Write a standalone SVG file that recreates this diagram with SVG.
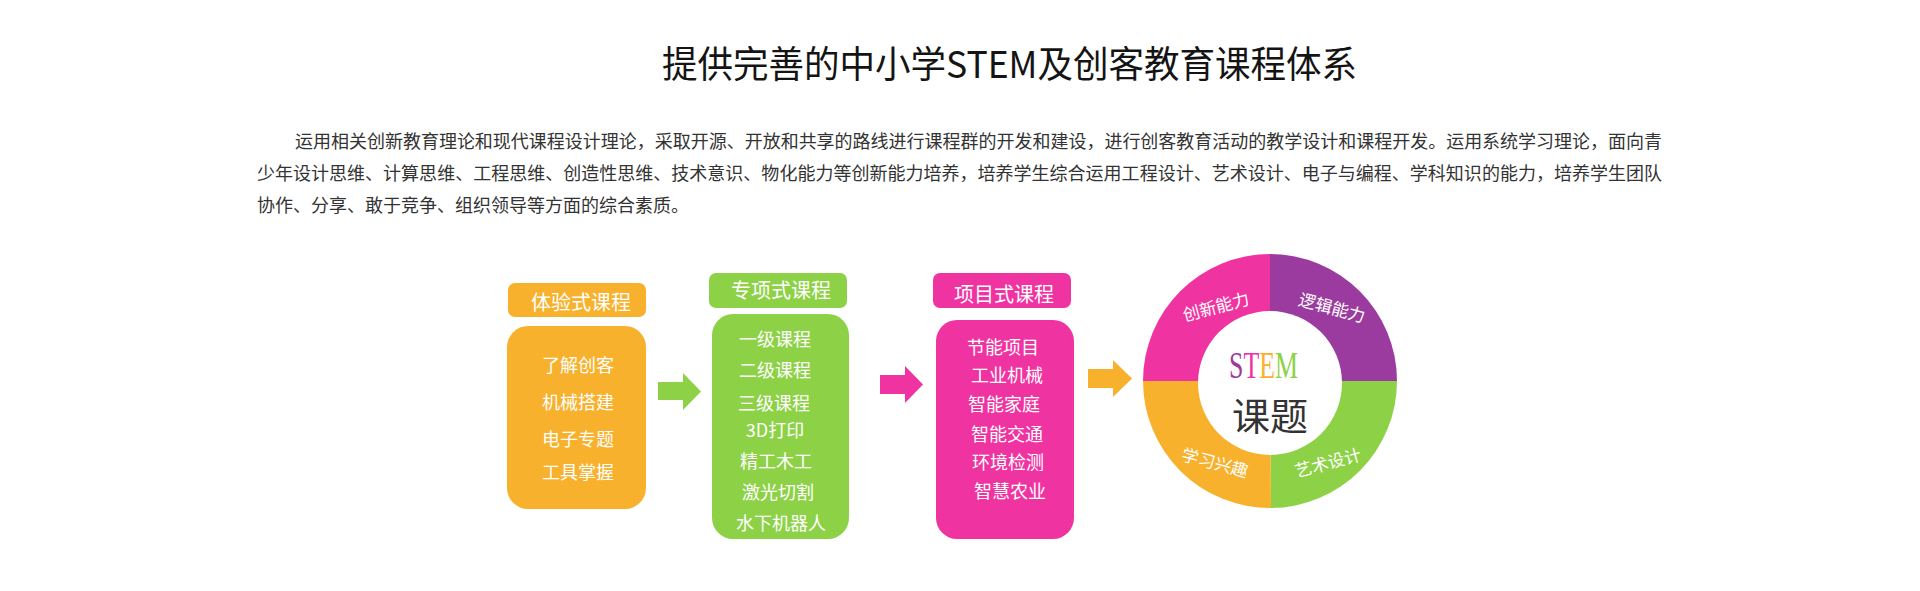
<svg xmlns="http://www.w3.org/2000/svg" width="1920" height="591" viewBox="0 0 1920 591">
<style>
.t{font-family:"Noto Sans CJK SC","Microsoft YaHei",sans-serif;}
.title{font-size:37px;fill:#141414;}
.para{font-size:18px;fill:#333333;}
.hd{font-size:20px;fill:#ffffff;text-anchor:middle;}
.it{font-size:18px;fill:#ffffff;text-anchor:middle;}
.rl{font-size:17px;fill:#ffffff;text-anchor:middle;}
.orange{fill:#F8B12C;}
.green{fill:#8DD246;}
.pink{fill:#EF34A2;}
.purple{fill:#9C3B9F;}
</style>
<rect width="1920" height="591" fill="#ffffff"/>
<g id="title">
<text class="t title" x="662" y="78" textLength="695" lengthAdjust="spacingAndGlyphs">提供完善的中小学STEM及创客教育课程体系</text>
</g>
<g id="paragraph" class="t para">
<text x="295" y="148" textLength="1367" lengthAdjust="spacing">运用相关创新教育理论和现代课程设计理论，采取开源、开放和共享的路线进行课程群的开发和建设，进行创客教育活动的教学设计和课程开发。运用系统学习理论，面向青</text>
<text x="257" y="180" textLength="1405" lengthAdjust="spacing">少年设计思维、计算思维、工程思维、创造性思维、技术意识、物化能力等创新能力培养，培养学生综合运用工程设计、艺术设计、电子与编程、学科知识的能力，培养学生团队</text>
<text x="257" y="212">协作、分享、敢于竞争、组织领导等方面的综合素质。</text>
</g>
<g id="node-tiyan">
<rect class="orange" x="508" y="283" width="138" height="34" rx="7"/>
<text class="t hd" x="581" y="310">体验式课程</text>
<rect class="orange" x="507" y="326" width="139" height="183" rx="21"/>
<g class="t it">
<text x="578" y="372">了解创客</text>
<text x="578" y="409">机械搭建</text>
<text x="578" y="446">电子专题</text>
<text x="578" y="479">工具掌握</text>
</g>
</g>
<g id="node-zhuanxiang">
<rect class="green" x="709" y="273" width="138" height="35" rx="7"/>
<text class="t hd" x="781" y="298">专项式课程</text>
<rect class="green" x="712" y="314" width="137" height="225" rx="21"/>
<g class="t it">
<text x="775" y="346">一级课程</text>
<text x="775" y="377">二级课程</text>
<text x="774" y="410">三级课程</text>
<text x="775" y="437">3D打印</text>
<text x="776" y="468">精工木工</text>
<text x="778" y="499">激光切割</text>
<text x="781" y="530">水下机器人</text>
</g>
</g>
<g id="node-xiangmu">
<rect class="pink" x="933" y="273" width="138" height="35" rx="7"/>
<text class="t hd" x="1004" y="302">项目式课程</text>
<rect class="pink" x="936" y="320" width="138" height="219" rx="21"/>
<g class="t it">
<text x="1003" y="354">节能项目</text>
<text x="1007" y="382">工业机械</text>
<text x="1004" y="411">智能家庭</text>
<text x="1007" y="441">智能交通</text>
<text x="1008" y="469">环境检测</text>
<text x="1010" y="498">智慧农业</text>
</g>
</g>
<g id="node-stem">
<path class="pink" d="M1270,381 L1143,381 A127,127 0 0 1 1270,254 Z"/>
<path class="purple" d="M1270,381 L1270,254 A127,127 0 0 1 1397,381 Z"/>
<path class="green" d="M1270,381 L1397,381 A127,127 0 0 1 1271,508 Z"/>
<path class="orange" d="M1270,381 L1271,508 A127,127 0 0 1 1143,381 Z"/>
<circle cx="1270" cy="383" r="72" fill="#ffffff"/>
<text class="t rl" transform="translate(1216,307) rotate(-15)" y="6">创新能力</text>
<text class="t rl" transform="translate(1332,308) rotate(15)" y="6">逻辑能力</text>
<text class="t rl" transform="translate(1215,463) rotate(15)" y="6">学习兴趣</text>
<text class="t rl" transform="translate(1328,463) rotate(-15)" y="6">艺术设计</text>
<text transform="translate(1229,378) scale(0.7,1)" x="0" y="0" style="font-family:'Liberation Serif',serif;font-size:37px;"><tspan fill="#9C3B9F">S</tspan><tspan fill="#EF34A2">T</tspan><tspan fill="#F8B12C">E</tspan><tspan fill="#8DD246">M</tspan></text>
<text class="t" x="1270" y="430" text-anchor="middle" style="font-size:38px;fill:#333333;">课题</text>
</g>
<g id="connectors">
<path class="green" d="M658,382 L683,382 L683,373 L701,391.5 L683,410 L683,400 L658,400 Z"/>
<path class="pink" d="M880,375 L905,375 L905,366 L923,384.5 L905,403 L905,394 L880,394 Z"/>
<path class="orange" d="M1088,369 L1113,369 L1113,360 L1132,378.5 L1113,397 L1113,388 L1088,388 Z"/>
</g>
</svg>
